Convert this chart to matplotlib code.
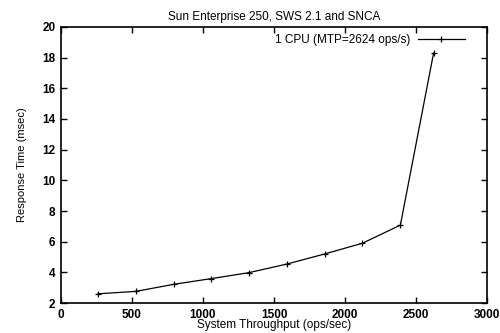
import matplotlib
matplotlib.use('Agg')
import matplotlib.pyplot as plt

# values
throughput = [260, 527, 794, 1057, 1323, 1590, 1857, 2123, 2390, 2624]
response = [2.6, 2.76, 3.22, 3.59, 3.98, 4.54, 5.2, 5.9, 7.08, 18.3]
xticks = [0, 500, 1000, 1500, 2000, 2500, 3000]
yticks = [2, 4, 6, 8, 10, 12, 14, 16, 18, 20]

plt.rcParams['font.family'] = ['Liberation Sans', 'DejaVu Sans']
plt.rcParams['font.size'] = 8

fig = plt.figure(figsize=(5, 3.33), dpi=100)
ax = fig.add_axes([0.122, 0.090, 0.852, 0.829])

ax.plot(throughput, response, color='black', lw=0.9, marker='+', ms=5, mew=0.9,
        label='1 CPU (MTP=2624 ops/s)')

ax.set_xlim(0, 3000)
ax.set_ylim(2, 20)
ax.set_xticks(xticks)
ax.set_yticks(yticks)
ax.tick_params(direction='in', top=True, right=True, length=4, width=1, pad=4,
               labelsize=8.5)
for lbl in ax.get_xticklabels() + ax.get_yticklabels():
    lbl.set_fontweight('bold')
for s in ax.spines.values():
    s.set_linewidth(1.2)

ax.set_title('Sun Enterprise 250, SWS 2.1 and SNCA', fontsize=8.5, pad=5)
ax.set_xlabel('System Throughput (ops/sec)', fontsize=8.5, labelpad=-1)
ax.set_ylabel('Response Time (msec)', fontsize=8, labelpad=11)

ax.legend(loc='upper right', frameon=False, markerfirst=False, handlelength=4,
          handletextpad=0.6, borderaxespad=0.2, borderpad=0.4,
          bbox_to_anchor=(0.965, 1.0), fontsize=8.5)

fig.savefig('out.png', dpi=100)
